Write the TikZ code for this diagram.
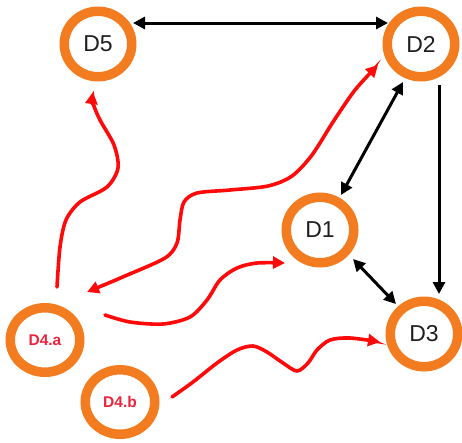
\documentclass[tikz,border=0pt]{standalone}
\usepackage{fontspec}
\setmainfont{Liberation Sans}
\usetikzlibrary{shapes.geometric,arrows.meta,calc}

\definecolor{ringorange}{RGB}{244,124,32}
\definecolor{flowred}{RGB}{255,10,10}
\definecolor{sublabel}{RGB}{235,35,60}
\definecolor{labelgray}{RGB}{30,30,30}

\tikzset{
  ring/.style={ellipse, draw=ringorange, line width=9.5pt, inner sep=0pt,
    minimum width=67.5pt, minimum height=65.5pt,
    font=\fontsize{23}{23}\selectfont, text=labelgray},
  subring/.style={ring, minimum width=69.5pt, minimum height=64.5pt,
    font=\bfseries\fontsize{15.5}{16}\selectfont, text=sublabel},
  link/.style={line width=3pt, black},
  onehead/.style={-{Triangle[length=12pt,width=12pt]}},
  twohead/.style={{Triangle[length=12pt,width=12pt]}-{Triangle[length=12pt,width=12pt]}},
  flow/.style={line width=3.6pt, flowred, line cap=round},
  flowhead/.style={-{Triangle[length=12pt,width=12pt]}},
  flowtwohead/.style={{Triangle[length=12pt,width=12pt]}-{Triangle[length=12pt,width=12pt]}}
}

\begin{document}
\begin{tikzpicture}[x=1pt,y=-1pt]
  \useasboundingbox (0,0) rectangle (462,442);

  % nodes
  \node[ring] (d5) at (98,44) {D5};
  \node[ring] (d2) at (421,44) {D2};
  \node[ring] (d1) at (320,230) {D1};
  \node[ring] (d3) at (424,334) {D3};
  \node[subring] (d4a) at (45,340) {D4.a};
  \node[subring] (d4b) at (120,402) {D4.b};

  % connector ends next to the rings
  \coordinate (d5e)  at ($(d5)+(35,-21)$);
  \coordinate (d2w)  at ($(d2)+(-33,-21)$);
  \coordinate (d2sw) at ($(d2)+(-18,38)$);
  \coordinate (d1ne) at ($(d1)+(21,-35)$);
  \coordinate (d2s)  at ($(d2)+(18,41)$);
  \coordinate (d3n)  at ($(d3)+(15,-40)$);
  \coordinate (d1se) at ($(d1)+(33,29)$);
  \coordinate (d3nw) at ($(d3)+(-28,-30)$);

  % black links
  \draw[link,twohead] (d5e) -- (d2w);
  \draw[link,twohead] (d2sw) -- (d1ne);
  \draw[link,onehead] (d2s) -- (d3n);
  \draw[link,twohead] (d1se) -- (d3nw);

  % red flow ends
  \coordinate (r1s) at ($(d4a)+(12,-53)$);
  \coordinate (r1e) at ($(d5)+(-5,48)$);
  \coordinate (r2s) at ($(d4a)+(42,-48)$);
  \coordinate (r2e) at ($(d2)+(-43,21)$);
  \coordinate (r3s) at ($(d4a)+(60,-25)$);
  \coordinate (r3e) at ($(d1)+(-35,33)$);
  \coordinate (r4s) at ($(d4b)+(52,-5)$);
  \coordinate (r4e) at ($(d3)+(-44,8)$);

  % red flows
  \draw[flow,flowhead] plot[smooth] coordinates
    {(r1s) (60,247) (66,220) (80,202) (107,187) (118,168) (114,145) (100,120) (93,103) (r1e)};
  \draw[flow,flowtwohead] plot[smooth] coordinates
    {(r2s) (125,276) (165,258) (177,243) (180,220) (184,202) (197,193) (230,190) (268,186) (292,176) (312,155) (333,122) (355,90) (r2e)};
  \draw[flow,flowhead] plot[smooth] coordinates
    {(r3s) (130,322) (163,324) (190,317) (207,300) (220,280) (237,268) (257,263) (r3e)};
  \draw[flow,flowhead] plot[smooth] coordinates
    {(r4s) (193,382) (217,363) (237,350) (253,346) (267,352) (283,363) (297,371) (308,363) (317,350) (330,340) (350,338) (r4e)};
\end{tikzpicture}
\end{document}
